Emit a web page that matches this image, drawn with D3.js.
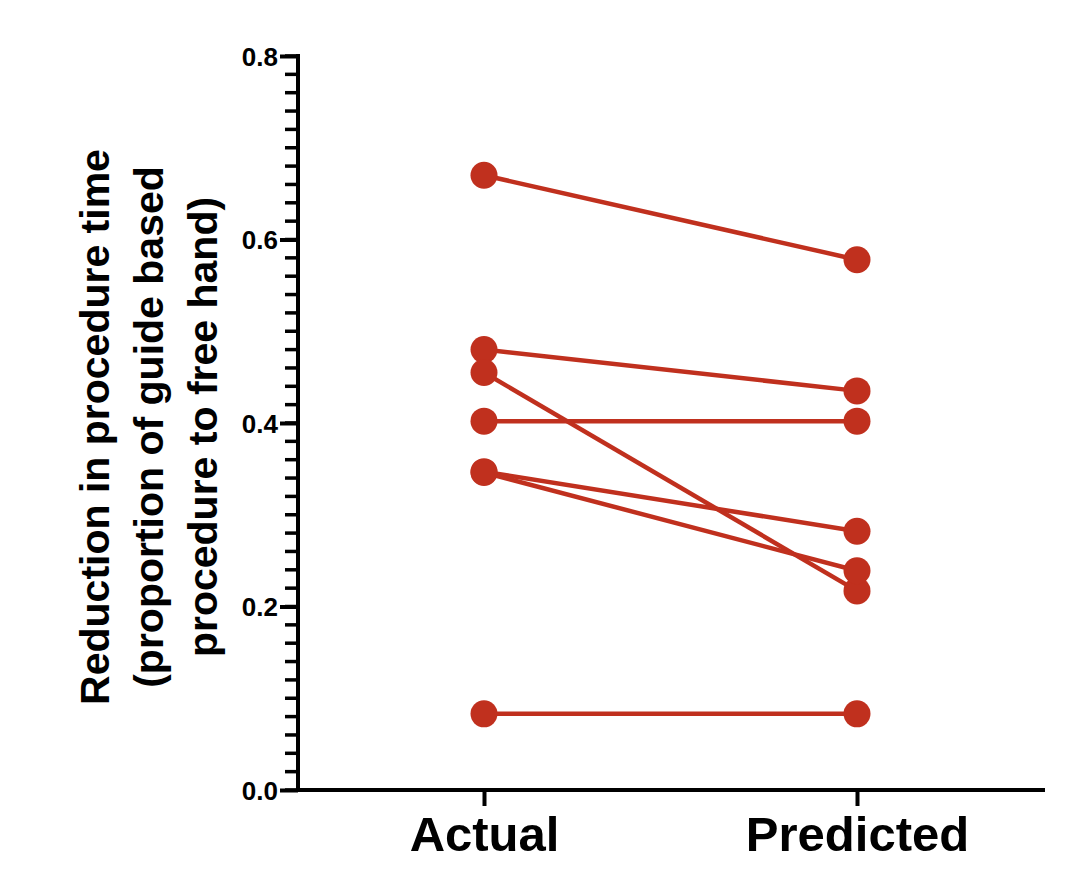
<!DOCTYPE html>
<html>
<head>
<meta charset="utf-8">
<script src="https://cdn.jsdelivr.net/npm/d3@7"></script>
<style>
  body { margin: 0; background: #fff; }
  text { font-family: "Liberation Sans", Arial, sans-serif; font-weight: bold; }
</style>
</head>
<body>
<svg id="chart" width="1071" height="880"></svg>
<script>
const groups = ["Actual", "Predicted"];
const actual = [0.670, 0.480, 0.455, 0.402, 0.347, 0.346, 0.083];
const predicted = [0.578, 0.435, 0.217, 0.402, 0.282, 0.239, 0.083];
const yTicks = [0.0, 0.2, 0.4, 0.6, 0.8];
const yLabel = ["Reduction in procedure time", "(proportion of guide based", "procedure to free hand)"];

const svg = d3.select("#chart");
const color = "#c0301e";

const y = d3.scaleLinear().domain([0, 0.8]).range([790, 56]);
const x = d3.scalePoint().domain(groups).range([484, 857]);

// minor ticks every 0.02
const minor = d3.range(0, 0.8001, 0.02);
svg.append("g")
  .selectAll("line")
  .data(minor)
  .enter()
  .append("line")
  .attr("x1", 285).attr("x2", 298)
  .attr("y1", d => y(d)).attr("y2", d => y(d))
  .attr("stroke", "#000").attr("stroke-width", 3.5);

// y axis
const yAxis = svg.append("g")
  .attr("transform", "translate(298,0)")
  .call(d3.axisLeft(y).tickValues(yTicks).tickFormat(d3.format(".1f")).tickSize(18).tickSizeOuter(0));
yAxis.select(".domain").attr("stroke-width", 4).attr("d", `M0,${y(0.8) - 2}V${y(0) + 2}`);
yAxis.selectAll(".tick line").attr("stroke-width", 4);
yAxis.selectAll(".tick text").attr("font-size", 26).attr("fill", "#000").attr("x", -20).attr("dy", "0.36em");

// x axis
const xAxis = svg.append("g")
  .attr("transform", "translate(0,790)")
  .call(d3.axisBottom(x).tickSize(16).tickSizeOuter(0));
xAxis.select(".domain").attr("stroke-width", 4).attr("d", "M296,0H1045");
xAxis.selectAll(".tick line").attr("stroke-width", 4);
xAxis.selectAll(".tick text").attr("font-size", 49).attr("fill", "#000").attr("y", 61).attr("dy", 0);

// y label
const lab = svg.append("text")
  .attr("transform", "translate(0,427) rotate(-90)")
  .attr("text-anchor", "middle")
  .attr("font-size", 41)
  .attr("fill", "#000");
yLabel.forEach((t, i) => {
  lab.append("tspan").attr("x", 0).attr("y", 109 + i * 54).text(t);
});

// lines
const pairs = actual.map((a, i) => [a, predicted[i]]);
svg.append("g")
  .selectAll("line")
  .data(pairs)
  .enter()
  .append("line")
  .attr("x1", x("Actual")).attr("x2", x("Predicted"))
  .attr("y1", d => y(d[0])).attr("y2", d => y(d[1]))
  .attr("stroke", color).attr("stroke-width", 4.5);

// points
const pts = [];
groups.forEach((g, gi) => pairs.forEach(p => pts.push({ g, v: p[gi] })));
svg.append("g")
  .selectAll("circle")
  .data(pts)
  .enter()
  .append("circle")
  .attr("cx", d => x(d.g))
  .attr("cy", d => y(d.v))
  .attr("r", 13.5)
  .attr("fill", color);
</script>
</body>
</html>
